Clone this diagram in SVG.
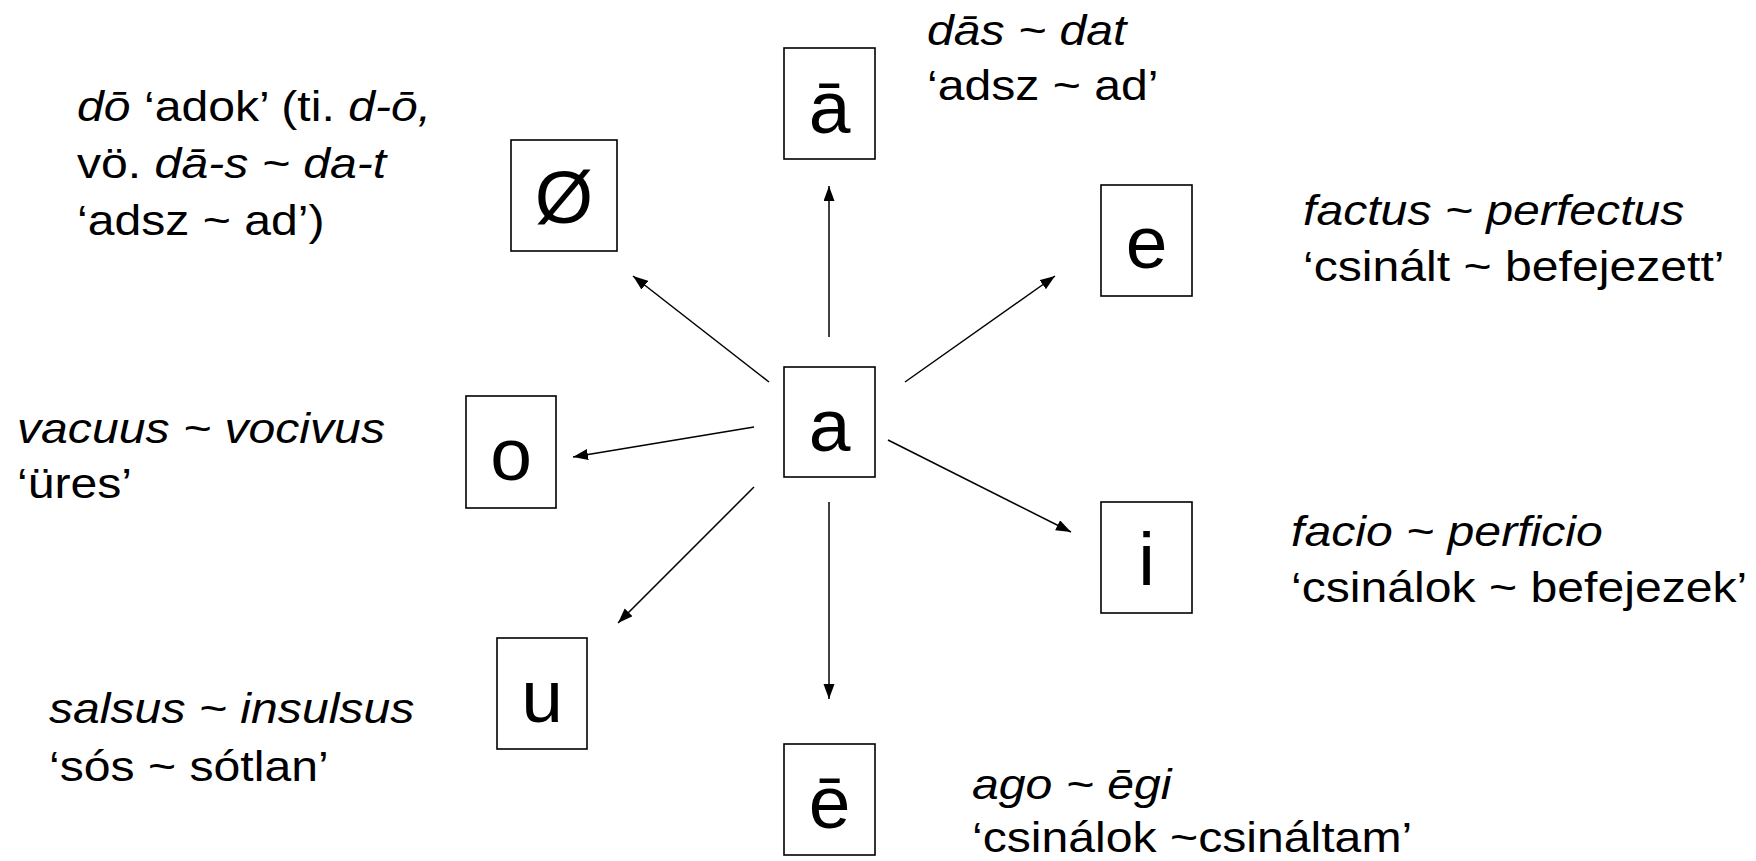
<svg xmlns="http://www.w3.org/2000/svg" width="1756" height="861" viewBox="0 0 1756 861">
<style>
.box{fill:#fff;stroke:#000;stroke-width:1.6}
.ltr{font-family:"Liberation Sans",Arial,sans-serif;font-size:75px;fill:#000;text-anchor:middle}
.lbl{font-family:"Liberation Sans",Arial,sans-serif;font-size:43px;fill:#000}
.it{font-style:italic}
.arr{stroke:#000;stroke-width:1.5;fill:none;marker-end:url(#ah)}
</style>
<defs>
<marker id="ah" markerUnits="userSpaceOnUse" markerWidth="16" markerHeight="12" refX="15" refY="5.5" orient="auto">
<path d="M0,0 L15,5.5 L0,11 Z" fill="#000"/>
</marker>
</defs>
<rect width="1756" height="861" fill="#fff"/>
<g id="connectors">
<line class="arr" x1="829" y1="337" x2="829" y2="186"/>
<line class="arr" x1="769" y1="382" x2="633" y2="276"/>
<line class="arr" x1="905" y1="382" x2="1055" y2="276"/>
<line class="arr" x1="754" y1="427" x2="573" y2="457"/>
<line class="arr" x1="754" y1="487" x2="618" y2="623"/>
<line class="arr" x1="829" y1="502" x2="829" y2="699"/>
<line class="arr" x1="888" y1="440" x2="1071" y2="532"/>
</g>
<g id="node-a">
<rect class="box" x="784" y="367" width="91" height="110"/>
<text class="ltr" x="829.5" y="451">a</text>
</g>
<g id="node-a-long">
<rect class="box" x="784" y="48" width="91" height="111"/>
<text class="ltr" x="829.5" y="133">ā</text>
<text class="lbl" transform="translate(927,45) scale(1.12,1)"><tspan class="it">dās ~ dat</tspan></text>
<text class="lbl" transform="translate(927,100) scale(1.12,1)">‘adsz ~ ad’</text>
</g>
<g id="node-zero">
<rect class="box" x="511" y="140" width="106" height="111"/>
<text class="ltr" x="564" y="223">Ø</text>
<text class="lbl" transform="translate(77,121) scale(1.12,1)"><tspan class="it">dō</tspan> ‘adok’ (ti. <tspan class="it">d-ō,</tspan></text>
<text class="lbl" transform="translate(77,178) scale(1.12,1)">vö. <tspan class="it">dā-s ~ da-t</tspan></text>
<text class="lbl" transform="translate(77,235) scale(1.12,1)">‘adsz ~ ad’)</text>
</g>
<g id="node-e">
<rect class="box" x="1101" y="185" width="91" height="111"/>
<text class="ltr" x="1146.5" y="268">e</text>
<text class="lbl" transform="translate(1303,225) scale(1.12,1)"><tspan class="it">factus ~ perfectus</tspan></text>
<text class="lbl" transform="translate(1303,281) scale(1.12,1)">‘csinált ~ befejezett’</text>
</g>
<g id="node-o">
<rect class="box" x="466" y="396" width="90" height="112"/>
<text class="ltr" x="511" y="480">o</text>
<text class="lbl" transform="translate(17,443) scale(1.12,1)"><tspan class="it">vacuus ~ vocivus</tspan></text>
<text class="lbl" transform="translate(17,498) scale(1.12,1)">‘üres’</text>
</g>
<g id="node-i">
<rect class="box" x="1101" y="502" width="91" height="111"/>
<text class="ltr" x="1146.5" y="585">i</text>
<text class="lbl" transform="translate(1291,546) scale(1.12,1)"><tspan class="it">facio ~ perficio</tspan></text>
<text class="lbl" transform="translate(1291,602) scale(1.12,1)">‘csinálok ~ befejezek’</text>
</g>
<g id="node-u">
<rect class="box" x="497" y="638" width="90" height="111"/>
<text class="ltr" x="542" y="722">u</text>
<text class="lbl" transform="translate(49,723) scale(1.12,1)"><tspan class="it">salsus ~ insulsus</tspan></text>
<text class="lbl" transform="translate(49,781) scale(1.12,1)">‘sós ~ sótlan’</text>
</g>
<g id="node-e-long">
<rect class="box" x="784" y="744" width="91" height="111"/>
<text class="ltr" x="829.5" y="828">ē</text>
<text class="lbl" transform="translate(972,799) scale(1.12,1)"><tspan class="it">ago ~ ēgi</tspan></text>
<text class="lbl" transform="translate(972,852) scale(1.12,1)">‘csinálok ~csináltam’</text>
</g>
</svg>
